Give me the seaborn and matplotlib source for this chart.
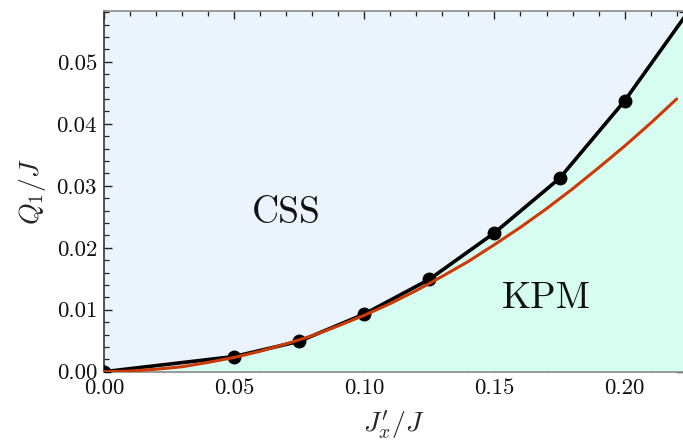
import matplotlib
matplotlib.use("Agg")
import matplotlib.pyplot as plt
import seaborn as sns
import pandas as pd
from matplotlib.ticker import MultipleLocator

# ---- data ----
jx_points = [0.0, 0.05, 0.075, 0.10, 0.125, 0.15, 0.175, 0.20, 0.225]
q1_points = [0.0, 0.00245, 0.00490, 0.0093, 0.0149, 0.0224, 0.0312, 0.0437, 0.0584]

jx_curve = [0.00, 0.01, 0.02, 0.03, 0.04, 0.05, 0.06, 0.07, 0.08, 0.09, 0.10, 0.11,
            0.12, 0.13, 0.14, 0.15, 0.16, 0.17, 0.18, 0.19, 0.20, 0.21, 0.22]
q1_curve = [0.0000, 0.0001, 0.0004, 0.0008, 0.0015, 0.0023, 0.0033, 0.0045, 0.0058,
            0.0074, 0.0091, 0.0110, 0.0131, 0.0154, 0.0178, 0.0205, 0.0233, 0.0263,
            0.0295, 0.0329, 0.0364, 0.0401, 0.0440]

xticks = [0.00, 0.05, 0.10, 0.15, 0.20]
xtick_labels = ["0.00", "0.05", "0.10", "0.15", "0.20"]
yticks = [0.00, 0.01, 0.02, 0.03, 0.04, 0.05]
ytick_labels = ["0.00", "0.01", "0.02", "0.03", "0.04", "0.05"]

region_labels = ["CSS", "KPM"]

sns.set_theme(style="ticks")
plt.rcParams["font.family"] = ["serif"]
plt.rcParams["font.serif"] = ["cmr10", "DejaVu Serif"]
plt.rcParams["mathtext.fontset"] = "cm"
plt.rcParams["axes.unicode_minus"] = False

df_pts = pd.DataFrame({"x": jx_points, "y": q1_points})
df_cur = pd.DataFrame({"x": jx_curve, "y": q1_curve})

fig = plt.figure(figsize=(6.83, 4.45), dpi=100)
ax = fig.add_axes([104 / 683, 1 - 371.7 / 445, 1 - 104 / 683 + 0.001, (371.7 - 11) / 445])
ax.set_facecolor("#ebf3fc")

ax.fill_between(jx_points, q1_points, 0, color="#d6fdf0", lw=0, zorder=1)

sns.lineplot(data=df_pts, x="x", y="y", ax=ax, color="black", lw=2.6,
             marker="o", markersize=10, markeredgewidth=0, zorder=4, sort=False)
sns.lineplot(data=df_cur, x="x", y="y", ax=ax, color="#cc3a08", lw=2.2,
             zorder=5, sort=False)

ax.set_xlim(0, 0.2227)
ax.set_ylim(0, 0.0582)

ax.set_xticks(xticks)
ax.set_xticklabels(xtick_labels)
ax.set_yticks(yticks)
ax.set_yticklabels(ytick_labels)
ax.xaxis.set_minor_locator(MultipleLocator(0.01))
ax.yaxis.set_minor_locator(MultipleLocator(0.002))

ax.tick_params(which="both", direction="in", top=True, right=True, labelsize=16.5,
               colors="#222222")
ax.tick_params(which="major", length=6, width=1.0, pad=5)
ax.tick_params(which="minor", length=3.5, width=0.9)
for lab in ax.get_xticklabels() + ax.get_yticklabels():
    lab.set_color("#111111")

for side in ["top", "bottom", "right"]:
    ax.spines[side].set_color("#8a8a8a")
ax.spines["left"].set_color("#333333")
for s in ax.spines.values():
    s.set_linewidth(1.2)

ax.set_xlabel(r"$J_x'/J$", fontsize=20, labelpad=8)
ax.set_ylabel(r"$Q_1/J$", fontsize=20, labelpad=6)

ax.text(0.070, 0.0256, region_labels[0], fontsize=27, ha="center", va="center", color="#111111", zorder=6)
ax.text(0.170, 0.0119, region_labels[1], fontsize=27, ha="center", va="center", color="#111111", zorder=6)

fig.savefig("out.png", dpi=100)
